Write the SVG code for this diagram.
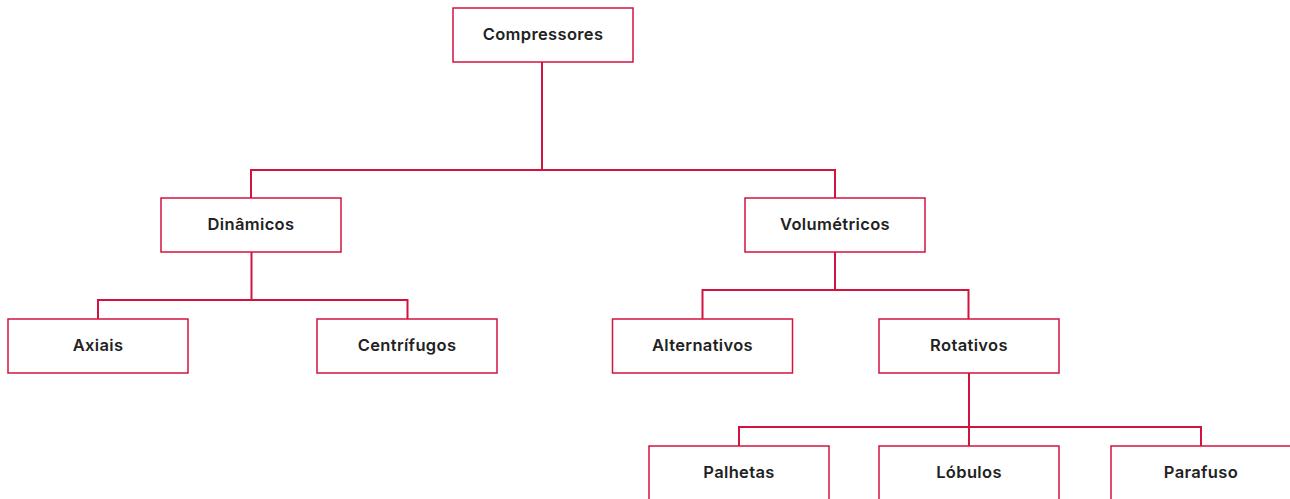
<svg xmlns="http://www.w3.org/2000/svg" width="1290" height="499" viewBox="0 0 1290 499">
  <style>
    .box { fill: #ffffff; stroke: #d3133f; stroke-width: 1.5; }
    .lbl { font-family: "Inter", "Liberation Sans", sans-serif; font-weight: 600; font-size: 16.5px; letter-spacing: 0.35px; fill: #222222; text-anchor: middle; dominant-baseline: central; }
    .wire { fill: none; stroke: #d3133f; stroke-width: 2; }
  </style>
  <rect width="1290" height="499" fill="#ffffff"/>

  <g id="connectors">
    <path class="wire" d="M542 62 V170 M251 198 V170 H835 V198"/>
    <path class="wire" d="M251.5 252 V300 M98 319 V300 H407.5 V319"/>
    <path class="wire" d="M835 252 V290 M702.5 319 V290 H968.5 V319"/>
    <path class="wire" d="M969 373 V446 M739 446 V427 H1201 V446"/>
  </g>

  <g id="compressores"><rect class="box" x="453" y="8" width="180" height="54"/><text class="lbl" x="543" y="34">Compressores</text></g>
  <g id="dinamicos"><rect class="box" x="161" y="198" width="180" height="54"/><text class="lbl" x="251" y="224">Dinâmicos</text></g>
  <g id="volumetricos"><rect class="box" x="745" y="198" width="180" height="54"/><text class="lbl" x="835" y="224">Volumétricos</text></g>
  <g id="axiais"><rect class="box" x="8" y="319" width="180" height="54"/><text class="lbl" x="98" y="345">Axiais</text></g>
  <g id="centrifugos"><rect class="box" x="317" y="319" width="180" height="54"/><text class="lbl" x="407" y="345">Centrífugos</text></g>
  <g id="alternativos"><rect class="box" x="612.5" y="319" width="180" height="54"/><text class="lbl" x="702.5" y="345">Alternativos</text></g>
  <g id="rotativos"><rect class="box" x="879" y="319" width="180" height="54"/><text class="lbl" x="969" y="345">Rotativos</text></g>
  <g id="palhetas"><rect class="box" x="649" y="446" width="180" height="60"/><text class="lbl" x="739" y="472">Palhetas</text></g>
  <g id="lobulos"><rect class="box" x="879" y="446" width="180" height="60"/><text class="lbl" x="969" y="472">Lóbulos</text></g>
  <g id="parafuso"><rect class="box" x="1111" y="446" width="180" height="60"/><text class="lbl" x="1201" y="472">Parafuso</text></g>
</svg>
